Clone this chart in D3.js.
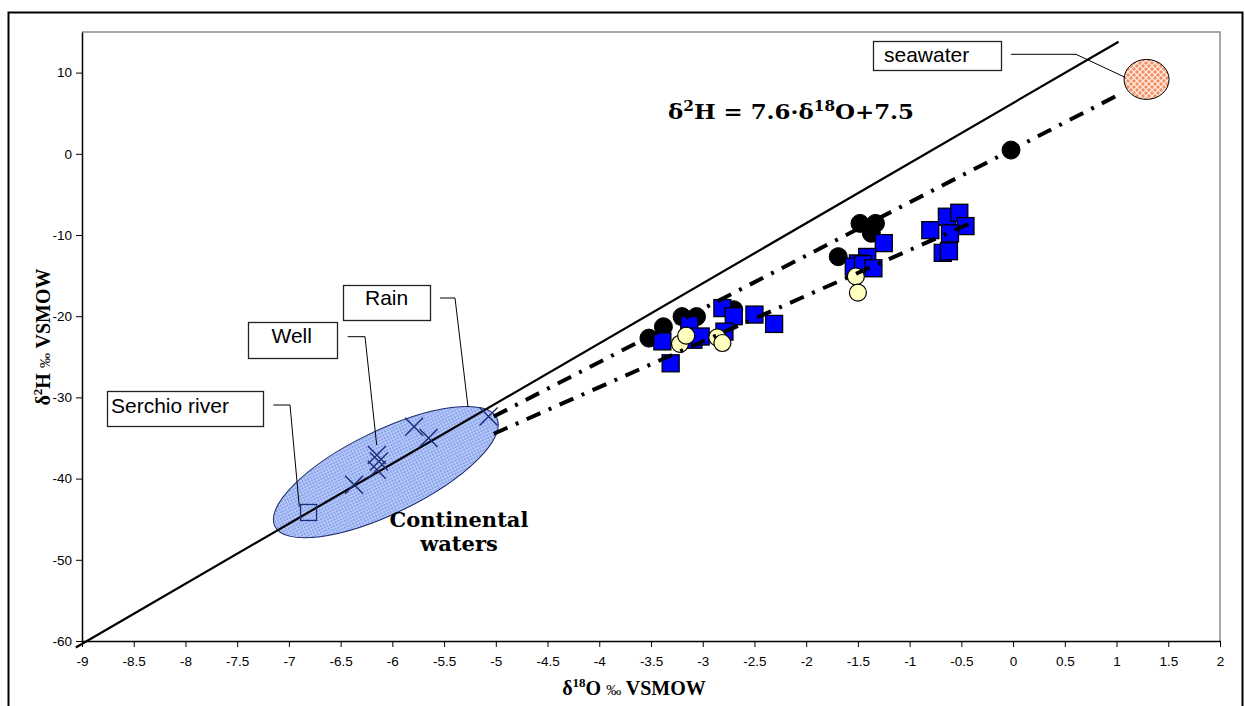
<!DOCTYPE html>
<html>
<head>
<meta charset="utf-8">
<script src="https://cdn.jsdelivr.net/npm/d3@7"></script>
<style>
  html, body { margin: 0; padding: 0; background: #fff; }
  svg { display: block; }
</style>
</head>
<body>
<svg id="chart" width="1245" height="706"></svg>
<script>
// ---------------- data ----------------
const xTicks = [-9, -8.5, -8, -7.5, -7, -6.5, -6, -5.5, -5, -4.5, -4, -3.5, -3, -2.5, -2, -1.5, -1, -0.5, 0, 0.5, 1, 1.5, 2];
const yTicks = [-60, -50, -40, -30, -20, -10, 0, 10];

const blackX = [-3.52, -3.38, -3.20, -3.06, -2.70, -1.48, -1.33, -1.37, -1.69, -0.02];
const blackY = [-22.7, -21.3, -20.05, -20.05, -19.2, -8.57, -8.57, -9.79, -12.67, 0.46];

const squareX = [-3.39, -3.13, -3.09, -3.02, -2.81, -2.70, -2.79, -2.50, -2.31, -3.31,
                 -1.25, -1.41, -1.50, -1.54, -1.45, -1.35,
                 -0.80, -0.64, -0.52, -0.46, -0.61, -0.68, -0.62];
const squareY = [-23.1, -21.1, -22.9, -22.5, -19.0, -20.0, -21.9, -19.8, -20.95, -25.8,
                 -11.0, -12.7, -13.5, -13.9, -13.6, -14.1,
                 -9.4, -7.75, -7.26, -8.9, -9.8, -12.2, -12.0];

const yellowX = [-3.22, -3.16, -2.86, -2.81, -1.52, -1.50];
const yellowY = [-23.4, -22.4, -22.6, -23.3, -15.1, -17.1];

const wellX = [-5.79, -5.65, -6.15, -6.13, -6.15, -6.37];
const wellY = [-33.6, -35.0, -37.1, -37.9, -38.9, -40.75];
const rainX = [-5.07];
const rainY = [-32.35];
const riverX = [-6.81];
const riverY = [-44.17];

const mwlX = [-9.06, 1.02];
const mwlY = [-60.8, 13.8];
const mix1X = [-5.02, 1.03];
const mix1Y = [-32.35, 7.34];
const mix2X = [-5.02, -0.38];
const mix2Y = [-34.48, -8.36];

const seawaterCenter = [1.29, 9.16];
const continentalCenter = [-6.063, -39.2];

const labelTexts = ["seawater", "Rain", "Well", "Serchio river"];

// ---------------- drawing ----------------
const svg = d3.select("#chart");
const W = 1245, H = 706;
const plot = { left: 82, right: 1220, top: 32, bottom: 641 };

const x = d3.scaleLinear().domain([-9, 2]).range([plot.left, plot.right]);
const y = d3.scaleLinear().domain([-60, 15]).range([plot.bottom, plot.top]);

svg.append("rect").attr("width", W).attr("height", H).attr("fill", "#fff");
// outer border
svg.append("rect").attr("x", 8.5).attr("y", 12.5).attr("width", 1234).attr("height", 720)
  .attr("fill", "none").attr("stroke", "#000").attr("stroke-width", 2);

// patterns
const defs = svg.append("defs");
const pBlue = defs.append("pattern").attr("id", "blueGrid").attr("patternUnits", "userSpaceOnUse")
  .attr("width", 3).attr("height", 3);
pBlue.append("rect").attr("width", 3).attr("height", 3).attr("fill", "#86a2ee");
pBlue.append("path").attr("d", "M0,0.5H3M0.5,0V3").attr("stroke", "#bccbf7").attr("stroke-width", 1);

const pSea = defs.append("pattern").attr("id", "seaHatch").attr("patternUnits", "userSpaceOnUse")
  .attr("width", 6).attr("height", 6);
pSea.append("rect").attr("width", 6).attr("height", 6).attr("fill", "#f58f63");
pSea.append("path").attr("d", "M0,0L6,6M6,0L0,6").attr("stroke", "#ffe8dc").attr("stroke-width", 1.3);

// plot frame (top/right grey)
svg.append("path")
  .attr("d", `M${plot.left},${plot.top}H${plot.right}V${plot.bottom}`)
  .attr("fill", "none").attr("stroke", "#8c8c8c").attr("stroke-width", 1.5);

// continental waters ellipse
const cc = [x(continentalCenter[0]), y(continentalCenter[1])];
svg.append("ellipse")
  .attr("transform", `translate(${cc[0]},${cc[1]}) rotate(-26)`)
  .attr("rx", 123.5).attr("ry", 41.4)
  .attr("fill", "url(#blueGrid)").attr("stroke", "#1b2a6b").attr("stroke-width", 1);

// axes
const fmt = d => String(d);
const yAxis = svg.append("g").attr("transform", `translate(${plot.left},0)`)
  .call(d3.axisLeft(y).tickValues(yTicks).tickSize(6).tickSizeOuter(0).tickFormat(fmt));
const xAxis = svg.append("g").attr("transform", `translate(0,${plot.bottom})`)
  .call(d3.axisBottom(x).tickValues(xTicks).tickSize(6).tickSizeOuter(0).tickFormat(fmt));
[xAxis, yAxis].forEach(g => {
  g.select(".domain").attr("stroke", "#000").attr("stroke-width", 1.5);
  g.selectAll(".tick line").attr("stroke", "#000").attr("stroke-width", 1);
  g.selectAll(".tick text").attr("fill", "#000")
    .attr("font-family", "'Liberation Sans', Arial, sans-serif").attr("font-size", 13.5);
});
xAxis.selectAll(".tick text").attr("dy", "1.2em");
yAxis.selectAll(".tick text").attr("dx", "-1px");

// lines
const line = d3.line().x(d => x(d[0])).y(d => y(d[1]));
const zip = (a, b) => a.map((v, i) => [v, b[i]]);
svg.append("path").attr("d", line(zip(mwlX, mwlY)))
  .attr("stroke", "#000").attr("stroke-width", 2.2).attr("fill", "none");

// crosses (well + rain)
const crossSize = 9;
const crosses = zip(wellX.concat(rainX), wellY.concat(rainY));
svg.append("g").selectAll("path").data(crosses).join("path")
  .attr("d", d => {
    const cx = x(d[0]), cy = y(d[1]);
    return `M${cx - crossSize},${cy - crossSize}L${cx + crossSize},${cy + crossSize}M${cx + crossSize},${cy - crossSize}L${cx - crossSize},${cy + crossSize}`;
  })
  .attr("stroke", "#1d2c78").attr("stroke-width", 1.4).attr("fill", "none");

// Serchio river square
svg.append("g").selectAll("rect").data(zip(riverX, riverY)).join("rect")
  .attr("x", d => x(d[0]) - 8).attr("y", d => y(d[1]) - 8)
  .attr("width", 16).attr("height", 16)
  .attr("fill", "none").attr("stroke", "#1d2c78").attr("stroke-width", 1.3);

// markers
svg.append("g").selectAll("circle").data(zip(blackX, blackY)).join("circle")
  .attr("cx", d => x(d[0])).attr("cy", d => y(d[1])).attr("r", 9)
  .attr("fill", "#000").attr("stroke", "#000");
svg.append("g").selectAll("rect").data(zip(squareX, squareY)).join("rect")
  .attr("x", d => x(d[0]) - 8.5).attr("y", d => y(d[1]) - 8.5)
  .attr("width", 17).attr("height", 17)
  .attr("fill", "#0000ff").attr("stroke", "#000").attr("stroke-width", 1.3);
svg.append("g").selectAll("circle").data(zip(yellowX, yellowY)).join("circle")
  .attr("cx", d => x(d[0])).attr("cy", d => y(d[1])).attr("r", 8.5)
  .attr("fill", "#ffffc0").attr("stroke", "#000").attr("stroke-width", 1.2);

// dash-dot mixing lines
[[mix1X, mix1Y], [mix2X, mix2Y]].forEach(([lx, ly]) => {
  svg.append("path").attr("d", line(zip(lx, ly)))
    .attr("stroke", "#000").attr("stroke-width", 4).attr("fill", "none")
    .attr("stroke-dasharray", "15,9,3,9");
});

// seawater ellipse
const sc = [x(seawaterCenter[0]), y(seawaterCenter[1])];
svg.append("ellipse").attr("cx", sc[0]).attr("cy", sc[1]).attr("rx", 22.5).attr("ry", 20)
  .attr("fill", "url(#seaHatch)").attr("stroke", "#000").attr("stroke-width", 1);

// callout labels
const callouts = [
  { text: labelTexts[0], box: [873, 41, 128, 29], tx: 884, ty: 62, leader: [[1011, 54.3], [1076, 54.3], [1125, 77.3]] },
  { text: labelTexts[1], box: [343, 285, 87, 35], tx: 365, ty: 305, leader: [[440, 298], [455, 298], [468, 407]] },
  { text: labelTexts[2], box: [248, 322, 89, 36], tx: 271.5, ty: 343, leader: [[347.7, 336.7], [365, 336.7], [376.7, 445]] },
  { text: labelTexts[3], box: [107, 391, 156, 35], tx: 111, ty: 412.5, leader: [[273.3, 405], [290, 405], [299.3, 506.7]] }
];
callouts.forEach(c => {
  svg.append("rect").attr("x", c.box[0] + 0.5).attr("y", c.box[1] + 0.5)
    .attr("width", c.box[2]).attr("height", c.box[3])
    .attr("fill", "#fff").attr("stroke", "#222").attr("stroke-width", 1.3);
  svg.append("text").attr("x", c.tx).attr("y", c.ty).text(c.text)
    .attr("font-family", "'Liberation Sans', Arial, sans-serif").attr("font-size", 21).attr("fill", "#000");
  svg.append("path").attr("d", d3.line()(c.leader))
    .attr("fill", "none").attr("stroke", "#000").attr("stroke-width", 1);
});

// equation
const eq = svg.append("text").attr("x", 668).attr("y", 119)
  .attr("font-family", "'DejaVu Serif', serif").attr("font-weight", "bold").attr("font-size", 21)
  .attr("textLength", 246).attr("lengthAdjust", "spacingAndGlyphs").attr("fill", "#000");
eq.append("tspan").text("δ");
eq.append("tspan").text("2").attr("font-size", 14).attr("dy", -8);
eq.append("tspan").text("H = 7.6·δ").attr("dy", 8);
eq.append("tspan").text("18").attr("font-size", 14).attr("dy", -8);
eq.append("tspan").text("O+7.5").attr("dy", 8);

// continental waters label
const cw = svg.append("text").attr("font-family", "'DejaVu Serif', serif").attr("font-weight", "bold")
  .attr("font-size", 21).attr("fill", "#000").attr("text-anchor", "middle");
cw.append("tspan").attr("x", 459).attr("y", 527).text("Continental");
cw.append("tspan").attr("x", 459).attr("y", 551).text("waters");

// axis titles
const xt = svg.append("text").attr("x", 634).attr("y", 695).attr("text-anchor", "middle")
  .attr("font-family", "'Liberation Serif', 'Times New Roman', serif").attr("font-weight", "bold")
  .attr("font-size", 20).attr("fill", "#000");
xt.append("tspan").text("δ");
xt.append("tspan").text("18").attr("font-size", 13).attr("dy", -8);
xt.append("tspan").text("O ").attr("dy", 8);
xt.append("tspan").text("‰").attr("font-weight", "normal").attr("font-size", 15);
xt.append("tspan").text(" VSMOW");

const yt = svg.append("text").attr("transform", "translate(50,337) rotate(-90)").attr("text-anchor", "middle")
  .attr("font-family", "'Liberation Serif', 'Times New Roman', serif").attr("font-weight", "bold")
  .attr("font-size", 20).attr("fill", "#000");
yt.append("tspan").text("δ");
yt.append("tspan").text("2").attr("font-size", 13).attr("dy", -8);
yt.append("tspan").text("H ").attr("dy", 8);
yt.append("tspan").text("‰").attr("font-weight", "normal").attr("font-size", 15);
yt.append("tspan").text(" VSMOW");
</script>
</body>
</html>
